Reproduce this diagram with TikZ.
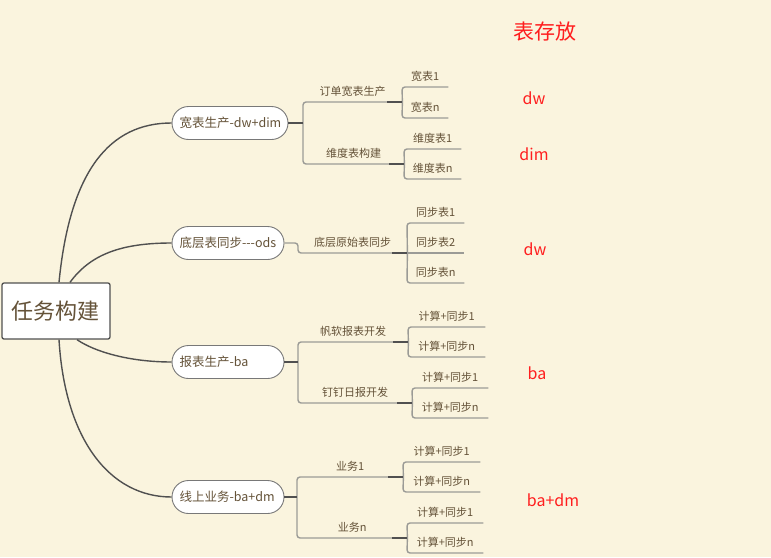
\documentclass[tikz,border=0pt]{standalone}
\usepackage{fontspec}
\setmainfont{Noto Sans CJK SC}
\usepackage{tikz}
\usepackage{xcolor}

\definecolor{paper}{RGB}{250,244,222}
\definecolor{txt}{RGB}{100,82,56}
\definecolor{edgedark}{RGB}{80,80,80}
\definecolor{edgelight}{RGB}{155,155,150}
\definecolor{pillline}{RGB}{120,120,120}
\definecolor{note}{RGB}{255,30,30}

\begin{document}
\begin{tikzpicture}[
    x=1pt, y=-1pt,
    root/.style={rectangle, draw=edgedark, line width=1.3pt, fill=white, rounded corners=2pt, minimum width=108pt, minimum height=56pt, text=txt, font=\fontsize{22}{26}\selectfont},
    pill/.style={rectangle, draw=pillline, line width=0.9pt, fill=white, rounded corners=16.5pt, minimum height=33pt, text width=97pt, inner xsep=7.5pt, align=left, text=txt, font=\fontsize{12.5}{15}\selectfont},
    topic/.style={anchor=south west, inner xsep=0pt, inner ysep=6pt, text depth=0pt, text=txt, font=\fontsize{11}{13}\selectfont},
    note/.style={text=note, font=\fontsize{16}{19}\selectfont},
    curve/.style={draw=edgedark, line width=1.4pt},
    link/.style={draw=edgelight, line width=1.4pt, rounded corners=3pt},
    stem/.style={draw=edgedark, line width=1.4pt}
]
\fill[paper] (0,0) rectangle (771,557);

% Root
\node (root) [root] at (56,311) {任务构建};

% Main branches
\node (wide) [pill, text width=101pt] at (230,123) {\mbox{宽表生产-dw+dim}};
\node (ods) [pill] at (228,243) {\mbox{底层表同步-{}-{}-ods}};
\node (report) [pill] at (228,362) {\mbox{报表生产-ba}};
\node (online) [pill] at (228,497) {\mbox{线上业务-ba+dm}};

\draw [curve] ([xshift=3pt]root.north) .. controls (70,170) and (110,123) .. (wide.west);
\draw [curve] ([xshift=14pt]root.north) .. controls (90,255) and (120,243) .. (ods.west);
\draw [curve] ([xshift=21pt]root.south) .. controls (95,352) and (130,362) .. (report.west);
\draw [curve] ([xshift=3pt]root.south) .. controls (65,440) and (110,497) .. (online.west);

% Wide table
\node (order) [topic, minimum width=99pt] at (303,102) {订单宽表生产};
\node (dim) [topic, minimum width=101pt] at (303,164) {维度表构建};
\node (wide1) [topic, minimum width=46pt] at (402,87) {宽表1};
\node (widen) [topic, minimum width=46pt] at (402,118) {宽表n};
\node (dim1) [topic, minimum width=57pt] at (404,149) {维度表1};
\node (dimn) [topic, minimum width=57pt] at (404,179) {维度表n};

\coordinate (wideknot) at (wide.east -| order.south west);
\draw [link] (wideknot) -- (order.south west) -- (order.south east);
\draw [link] (wideknot) -- (dim.south west) -- (dim.south east);
\draw [stem] (wide.east) -- (wideknot);
\draw [link] (order.south east) -- (wide1.south west) -- (wide1.south east);
\draw [link] (order.south east) -- (widen.south west) -- (widen.south east);
\draw [link] (dim.south east) -- (dim1.south west) -- (dim1.south east);
\draw [link] (dim.south east) -- (dimn.south west) -- (dimn.south east);
\draw [stem] ([xshift=-15pt]order.south east) -- (order.south east);
\draw [stem] ([xshift=-15pt]dim.south east) -- (dim.south east);

% Ods
\node (raw) [topic, minimum width=109pt] at (298,253) {底层原始表同步};
\node (sync1) [topic, minimum width=57pt] at (407,223) {同步表1};
\node (sync2) [topic, minimum width=57pt] at (407,253) {同步表2};
\node (syncn) [topic, minimum width=57pt] at (407,283) {同步表n};

\draw [link] (ods.east) -| (raw.south west) -- (raw.south east);
\draw [link] (raw.south east) -- (sync1.south west) -- (sync1.south east);
\draw [link] (raw.south east) -- (sync2.south east);
\draw [link] (raw.south east) -- (syncn.south west) -- (syncn.south east);
\draw [stem] ([xshift=-15pt]raw.south east) -- (raw.south east);

% Report
\node (fanruan) [topic, minimum width=110pt] at (298,342) {帆软报表开发};
\node (dingding) [topic, minimum width=114pt] at (298,403) {钉钉日报开发};
\node (fr1) [topic, minimum width=77pt] at (408,327) {计算+同步1};
\node (frn) [topic, minimum width=77pt] at (408,357) {计算+同步n};
\node (dd1) [topic, minimum width=76pt] at (412,388) {计算+同步1};
\node (ddn) [topic, minimum width=76pt] at (412,418) {计算+同步n};

\coordinate (reportknot) at (report.east -| fanruan.south west);
\draw [link] (reportknot) -- (fanruan.south west) -- (fanruan.south east);
\draw [link] (reportknot) -- (dingding.south west) -- (dingding.south east);
\draw [stem] (report.east) -- (reportknot);
\draw [link] (fanruan.south east) -- (fr1.south west) -- (fr1.south east);
\draw [link] (fanruan.south east) -- (frn.south west) -- (frn.south east);
\draw [link] (dingding.south east) -- (dd1.south west) -- (dd1.south east);
\draw [link] (dingding.south east) -- (ddn.south west) -- (ddn.south east);
\draw [stem] ([xshift=-15pt]fanruan.south east) -- (fanruan.south east);
\draw [stem] ([xshift=-15pt]dingding.south east) -- (dingding.south east);

% Online
\node (biz1) [topic, minimum width=106pt] at (297,477) {业务1};
\node (bizn) [topic, minimum width=110pt] at (297,538) {业务n};
\node (bz11) [topic, minimum width=77pt] at (403,462) {计算+同步1};
\node (bz1n) [topic, minimum width=77pt] at (403,492) {计算+同步n};
\node (bzn1) [topic, minimum width=76pt] at (407,523) {计算+同步1};
\node (bznn) [topic, minimum width=76pt] at (407,553) {计算+同步n};

\coordinate (onlineknot) at (online.east -| biz1.south west);
\draw [link] (onlineknot) -- (biz1.south west) -- (biz1.south east);
\draw [link] (onlineknot) -- (bizn.south west) -- (bizn.south east);
\draw [stem] (online.east) -- (onlineknot);
\draw [link] (biz1.south east) -- (bz11.south west) -- (bz11.south east);
\draw [link] (biz1.south east) -- (bz1n.south west) -- (bz1n.south east);
\draw [link] (bizn.south east) -- (bzn1.south west) -- (bzn1.south east);
\draw [link] (bizn.south east) -- (bznn.south west) -- (bznn.south east);
\draw [stem] ([xshift=-15pt]biz1.south east) -- (biz1.south east);
\draw [stem] ([xshift=-15pt]bizn.south east) -- (bizn.south east);

% Storage notes
\node (store) [note, font=\fontsize{21}{25}\selectfont] at (545,32) {表存放};
\node (storewide) [note] at (534,98) {dw};
\node (storedim) [note] at (534,154) {dim};
\node (storeods) [note] at (535,249) {dw};
\node (storereport) [note] at (537,373) {ba};
\node (storeonline) [note] at (553,500) {ba+dm};

\end{tikzpicture}
\end{document}
